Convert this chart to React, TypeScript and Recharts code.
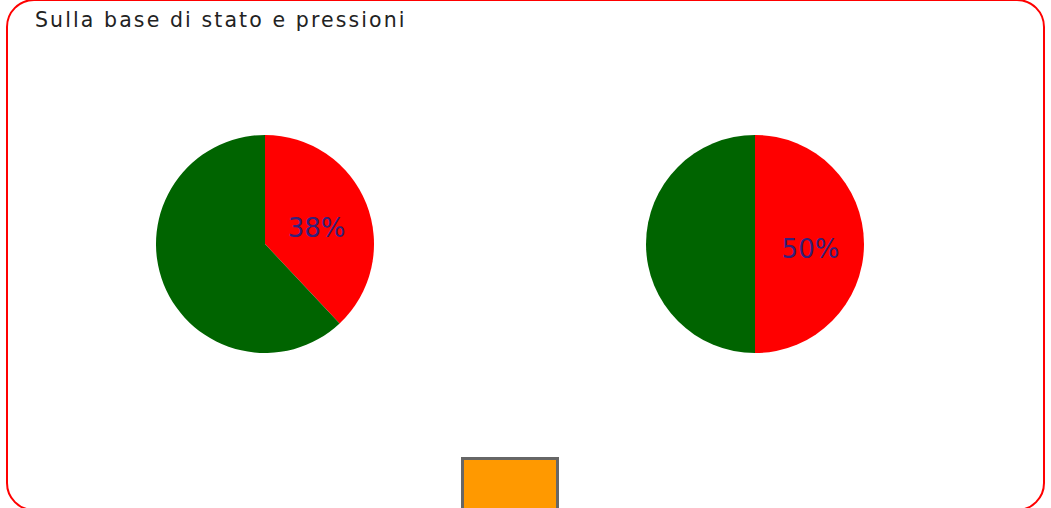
import { PieChart, Pie, Cell } from "recharts"

const sliceNames = ["Critico", "Buono"]
const sliceColors = ["#ff0000", "#006400"]
const statoValues = [38, 62]
const pressioniValues = [50, 50]
const title = "Sulla base di stato e pressioni"

const statoData = sliceNames.map((name, i) => ({ name, value: statoValues[i] }))
const pressioniData = sliceNames.map((name, i) => ({ name, value: pressioniValues[i] }))

const RADIAN = Math.PI / 180

const renderLabel = (props: any) => {
  const { cx, cy, midAngle, outerRadius, percent, index } = props
  if (index !== 0) return null
  const r = outerRadius * 0.5
  const x = cx + r * Math.cos(-midAngle * RADIAN)
  const y = cy + r * Math.sin(-midAngle * RADIAN)
  return (
    <text
      x={x + 1}
      y={y + 4.5}
      fill="#35207a"
      textAnchor="middle"
      dominantBaseline="central"
      fontFamily="DejaVu Sans"
      fontSize={26}
    >
      {`${Math.round(percent * 100)}%`}
    </text>
  )
}

export default function App() {
  return (
    <div
      style={{
        position: "absolute",
        left: 0,
        top: 0,
        width: 1051,
        height: 508,
        overflow: "hidden",
        background: "#fff",
      }}
    >
      <div
        style={{
          position: "absolute",
          left: 6,
          top: -1,
          width: 1039,
          height: 512,
          border: "2px solid #ff0000",
          borderRadius: 28,
          boxSizing: "border-box",
        }}
      />
      <div
        style={{
          position: "absolute",
          left: 35,
          top: 10,
          fontFamily: "DejaVu Sans",
          fontSize: 20.5,
          lineHeight: "20px",
          letterSpacing: 2.1,
          color: "#222",
          whiteSpace: "nowrap",
        }}
      >
        {title}
      </div>
      <PieChart
        width={1051}
        height={508}
        margin={{ top: 0, right: 0, bottom: 0, left: 0 }}
        style={{ position: "absolute", left: 0, top: 0 }}
      >
        <Pie
          data={statoData}
          dataKey="value"
          nameKey="name"
          cx={265}
          cy={244}
          outerRadius={109}
          startAngle={90}
          endAngle={-270}
          stroke="none"
          label={renderLabel}
          labelLine={false}
          isAnimationActive={false}
        >
          {statoData.map((d, i) => (
            <Cell key={d.name} fill={sliceColors[i]} />
          ))}
        </Pie>
        <Pie
          data={pressioniData}
          dataKey="value"
          nameKey="name"
          cx={755}
          cy={244}
          outerRadius={109}
          startAngle={90}
          endAngle={-270}
          stroke="none"
          label={renderLabel}
          labelLine={false}
          isAnimationActive={false}
        >
          {pressioniData.map((d, i) => (
            <Cell key={d.name} fill={sliceColors[i]} />
          ))}
        </Pie>
      </PieChart>
      <div
        style={{
          position: "absolute",
          left: 461,
          top: 457,
          width: 98,
          height: 98,
          background: "#ff9900",
          border: "3px solid #666",
          boxSizing: "border-box",
        }}
      />
    </div>
  )
}
